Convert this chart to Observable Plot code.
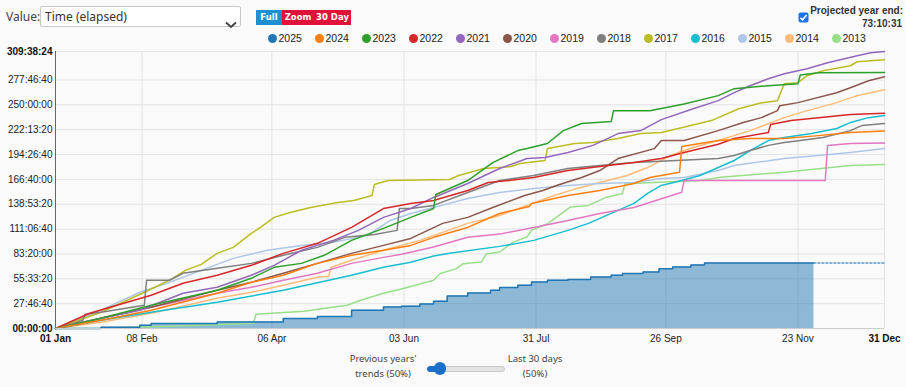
<!DOCTYPE html>
<html><head><meta charset="utf-8">
<script src="https://cdn.jsdelivr.net/npm/d3@7"></script>
<script src="https://cdn.jsdelivr.net/npm/@observablehq/plot@0.6"></script>
<style>
html,body{margin:0;padding:0;background:#fafafa;}
#wrap{position:relative;width:906px;height:387px;overflow:hidden;font-family:"Noto Sans","Open Sans",sans-serif;color:#333;}
#chart{position:absolute;left:0;top:0;}
.abs{position:absolute;white-space:nowrap;}
</style></head>
<body><div id="wrap"><div id="chart"></div></div>
<script>
// ---- data (day of year, cumulative hours) ----
const years  = [2025,2024,2023,2022,2021,2020,2019,2018,2017,2016,2015,2014,2013];
const colors = ["#1f77b4","#ff7f0e","#2ca02c","#d62728","#9467bd","#8c564b","#e377c2","#7f7f7f","#bcbd22","#17becf","#aec7e8","#ffbb78","#98df8a"];
const xTickDays   = [0,38,95,153,211,268,326,364];
const xTickLabels = ["01 Jan","08 Feb","06 Apr","03 Jun","31 Jul","26 Sep","23 Nov","31 Dec"];
const yTickSeconds = [0,100000,200000,300000,400000,500000,600000,700000,800000,900000,1000000,1114704];
const currentDay = 333;
const projectedEnd = 73.17528; // 73:10:31

const s2025 = [[0,0],[20,1.5],[37,3.7],[42,5.6],[71,7.4],[100,11.2],[115,13.5],[130,20.4],[144,24.1],[152,24.9],[160,27.5],[166,30.5],[172,36.4],[181,39.7],[191,42.7],[195,45.7],[203,48.3],[209,52.0],[216,53.9],[225,54.7],[235,57.6],[244,59.5],[249,61.4],[258,63.1],[265,66.9],[271,68.7],[279,71.0],[285,73.175],[333,73.175]];
const s2024 = [[0,0],[20,9.3],[42,20.4],[71,39.4],[86,51.7],[100,59.5],[115,72.8],[130,81.8],[144,87.4],[156,92.9],[166,101.9],[181,113.0],[195,128.6],[208,136.4],[209,139.8],[225,148.7],[239,154.3],[254,162.1],[261,168.8],[274,174.7],[275,203.4],[291,210.1],[305,212.3],[320,212.3],[335,215.6],[349,219.0],[364,220.7]];
const s2023 = [[0,0],[20,11.5],[42,26.0],[71,42.7],[86,56.1],[96,68.4],[108,72.8],[118,81.8],[130,98.5],[144,111.9],[156,124.2],[166,134.1],[167,149.8],[181,165.4],[192,185.5],[203,198.9],[207,201.1],[216,206.8],[223,221.2],[231,229.1],[244,231.3],[245,243.5],[261,243.5],[276,251.0],[291,260.3],[298,268.1],[313,271.4],[326,273.7],[327,283.4],[335,285.9],[364,286.3]];
const s2022 = [[0,0],[15,17.1],[42,37.2],[56,50.5],[71,59.5],[86,70.6],[100,84.0],[115,95.2],[130,113.0],[144,134.1],[156,139.8],[166,143.1],[181,154.3],[190,163.2],[199,165.4],[210,168.8],[225,176.6],[239,181.1],[254,185.5],[266,190.0],[276,196.7],[291,206.0],[298,212.3],[313,219.0],[314,228.0],[323,232.4],[335,235.7],[349,239.1],[364,240.7]];
const s2021 = [[0,0],[20,11.5],[37,20.4],[56,39.4],[71,46.1],[86,59.5],[96,70.6],[108,87.4],[122,98.5],[133,109.7],[144,124.2],[156,134.1],[166,146.5],[181,162.1],[195,178.8],[207,190.0],[215,191.1],[225,196.7],[236,204.7],[247,217.9],[257,221.2],[266,233.5],[280,245.7],[291,254.7],[298,263.6],[305,271.4],[313,279.2],[320,284.8],[330,290.4],[339,297.1],[352,304.9],[358,308.3],[364,309.64]];
const s2020 = [[0,0],[20,11.5],[42,23.8],[71,42.7],[86,51.7],[100,61.7],[115,72.8],[130,84.0],[144,92.9],[156,100.7],[170,117.5],[181,124.2],[192,135.3],[206,148.7],[214,154.3],[220,159.9],[231,168.8],[239,176.6],[247,190.0],[263,201.1],[266,210.1],[276,210.1],[291,221.2],[302,230.2],[310,235.7],[317,243.5],[318,249.1],[326,252.5],[343,263.6],[349,269.2],[357,277.0],[364,281.5]];
const s2019 = [[0,0],[20,11.5],[42,23.8],[71,39.4],[86,46.1],[100,53.9],[115,61.7],[130,72.8],[144,79.5],[152,82.9],[166,91.0],[181,101.9],[195,105.5],[210,113.0],[225,120.8],[239,128.6],[254,135.3],[266,145.0],[275,152.4],[276,165.4],[338,165.4],[339,204.5],[349,206.8],[364,207.3]];
const s2018 = [[0,0],[6,4.0],[12,9.3],[13,16.0],[20,18.2],[39,26.0],[40,53.9],[50,53.9],[56,61.7],[71,67.3],[86,72.8],[100,81.8],[115,90.7],[127,101.9],[140,105.0],[150,109.7],[151,134.1],[156,134.1],[166,137.6],[181,152.1],[195,165.4],[210,171.0],[225,178.8],[239,182.2],[254,185.5],[291,190.0],[298,193.3],[305,198.9],[313,204.7],[320,207.9],[327,210.1],[337,213.4],[349,221.2],[354,226.8],[364,229.1]];
const s2017 = [[0,0],[20,18.2],[40,41.6],[50,53.9],[57,65.0],[64,71.7],[71,84.0],[78,90.7],[86,106.3],[90,113.0],[96,124.2],[103,129.7],[112,135.3],[124,140.9],[131,143.1],[139,148.7],[140,161.0],[146,165.4],[173,166.6],[177,171.0],[188,178.8],[200,181.0],[204,184.4],[215,187.8],[216,201.1],[228,206.7],[236,207.8],[247,212.3],[257,217.9],[266,219.0],[273,223.4],[288,232.4],[300,245.7],[310,252.4],[317,254.7],[320,273.7],[326,274.8],[330,282.6],[337,288.1],[349,293.7],[352,298.2],[364,300.4]];
const s2016 = [[0,0],[20,9.3],[42,18.2],[71,29.3],[100,42.7],[130,59.5],[144,68.4],[156,74.0],[166,81.0],[173,84.0],[195,91.8],[210,98.5],[225,109.7],[234,117.5],[239,123.1],[247,132.0],[254,139.8],[260,151.0],[266,159.9],[275,165.4],[283,171.0],[291,180.0],[298,187.8],[305,198.9],[313,210.1],[320,213.4],[332,217.9],[343,223.5],[349,230.2],[357,235.7],[364,238.0]];
const s2015 = [[0,0],[20,20.4],[37,40.5],[49,50.5],[64,65.0],[78,78.4],[93,87.4],[108,92.9],[122,96.3],[137,104.1],[147,120.8],[156,128.6],[166,135.3],[181,145.4],[195,152.1],[210,156.6],[225,159.9],[239,162.1],[254,163.2],[266,167.7],[276,168.8],[291,176.6],[298,182.2],[320,190.0],[335,193.3],[349,196.7],[364,201.1]];
const s2014 = [[0,0],[20,7.0],[42,17.1],[71,33.8],[86,40.5],[100,48.3],[115,57.2],[120,58.5],[121,68.4],[130,76.2],[144,87.4],[160,98.5],[181,117.5],[195,126.4],[207,137.6],[219,148.7],[229,156.6],[239,163.2],[251,171.0],[260,179.9],[270,193.3],[280,202.3],[291,210.1],[305,221.2],[320,235.7],[327,241.3],[335,246.9],[343,252.5],[352,260.3],[358,263.6],[364,267.0]];
const s2013 = [[0,0],[20,0.3],[50,2.6],[64,3.7],[87,5.9],[88,16.0],[109,19.3],[128,26.0],[134,31.6],[144,39.4],[151,43.5],[166,53.9],[169,61.4],[176,66.9],[179,72.5],[187,74.3],[189,82.9],[195,85.5],[201,96.6],[207,102.2],[209,109.7],[216,117.1],[220,124.5],[226,135.7],[234,137.6],[242,146.8],[249,150.9],[250,161.8],[283,165.4],[292,169.1],[320,174.7],[349,182.2],[364,183.3]];

const seriesByYear = {2025:s2025,2024:s2024,2023:s2023,2022:s2022,2021:s2021,2020:s2020,2019:s2019,2018:s2018,2017:s2017,2016:s2016,2015:s2015,2014:s2014,2013:s2013};

// ---- build tables ----
const rows = [];
for (const y of years.slice(1).reverse()) for (const [d,h] of seriesByYear[y]) rows.push({year:String(y), day:d, h});
const rows2025 = s2025.map(([d,h]) => ({year:"2025", day:d, h}));
const projRows = [{day:currentDay,h:projectedEnd},{day:364,h:projectedEnd}];
const yTicks = yTickSeconds.map(s => s/3600);
const yMax = yTicks[yTicks.length-1];

const pad = n => String(n).padStart(2,"0");
const fmtH = h => { const s = Math.round(h*3600); return pad(Math.floor(s/3600))+":"+pad(Math.floor((s%3600)/60))+":"+pad(s%60); };
const xLab = d => xTickLabels[xTickDays.indexOf(d)];

const midY = yTicks.slice(1,-1), endY = [yTicks[0], yMax];
const midX = xTickDays.slice(1,-1), endX = [xTickDays[0], xTickDays[xTickDays.length-1]];

const chart = Plot.plot({
  width: 906, height: 387,
  marginTop: 51, marginBottom: 59, marginLeft: 55, marginRight: 22,
  style: {fontFamily: "'Liberation Sans', Arial, sans-serif", fontSize: "10px", color: "#222", background: "transparent", overflow: "visible"},
  x: {domain: [0,364], label: null},
  y: {domain: [0,yMax], label: null},
  color: {domain: years.map(String), range: colors},
  marks: [
    Plot.gridX(xTickDays, {stroke: "#e3e3e3", strokeOpacity: 1}),
    Plot.gridY(yTicks, {stroke: "#e3e3e3", strokeOpacity: 1}),
    Plot.areaY(rows2025, {x: "day", y: "h", curve: "step-after", fill: "#1f77b4", fillOpacity: 0.5}),
    Plot.line(rows, {x: "day", y: "h", z: "year", stroke: "year", curve: "linear", strokeWidth: 1.5}),
    Plot.line(rows2025, {x: "day", y: "h", curve: "step-after", stroke: "#1f77b4", strokeWidth: 1.5}),
    Plot.line(projRows, {x: "day", y: "h", stroke: "#5b9bd0", strokeWidth: 1.5, strokeDasharray: "2,2"}),
    Plot.ruleX([0], {stroke: "#666"}),
    Plot.ruleY([0], {stroke: "#ccc"}),
    Plot.axisY(midY, {tickSize: 0, tickPadding: 3, tickFormat: fmtH, fill: "#222", label: null}),
    Plot.axisY(endY, {tickSize: 0, tickPadding: 3, tickFormat: fmtH, fill: "#111", fontWeight: "bold", label: null}),
    Plot.axisX(midX, {tickSize: 0, tickPadding: 6, tickFormat: xLab, fill: "#222", label: null}),
    Plot.axisX(endX, {tickSize: 0, tickPadding: 6, tickFormat: xLab, fill: "#111", fontWeight: "bold", label: null})
  ]
});
document.getElementById("chart").appendChild(chart);

// ---- HTML controls / legend overlays ----
const wrap = document.getElementById("wrap");
function add(html, css){ const e=document.createElement("div"); e.className="abs"; e.innerHTML=html; Object.assign(e.style, css); wrap.appendChild(e); return e; }

add("Value:", {left:"6px", top:"8px", fontSize:"12px", color:"#444"});
add("Time (elapsed)", {left:"40px", top:"6px", width:"195px", height:"19px", lineHeight:"19px", paddingLeft:"4px", fontSize:"12px", color:"#333", background:"#fff", border:"1px solid #c8c8c8", borderRadius:"2px"});
add('<svg width="12" height="8" viewBox="0 0 12 8"><path d="M1 1.5 L6 6 L11 1.5" fill="none" stroke="#444" stroke-width="2"/></svg>', {left:"225px", top:"12px"});
const btn = (t,l,w,bg) => add(t, {left:l+"px", top:"10px", width:w+"px", height:"15px", lineHeight:"15px", textAlign:"center", fontSize:"8.5px", fontWeight:"bold", color:"#fff", background:bg, fontFamily:"'DejaVu Sans',sans-serif"});
btn("Full",256,26,"#1e8fd0");
btn("Zoom",282,32,"#e0123a");
btn("30 Day",314,37,"#e0123a");

add('<svg width="11" height="11"><rect x="0.5" y="0.5" width="10" height="10" rx="2" fill="#1a73e8"/><path d="M2.5 5.8 L4.6 7.8 L8.6 3" fill="none" stroke="#fff" stroke-width="1.6"/></svg>', {left:"798px", top:"6px"});
add("Projected year end:", {right:"3px", top:"5px", fontSize:"10px", fontWeight:"bold", color:"#333", fontFamily:"'Liberation Sans',Arial,sans-serif"});
add(fmtH(projectedEnd), {right:"4px", top:"18px", fontSize:"10px", fontWeight:"bold", color:"#333", fontFamily:"'Liberation Sans',Arial,sans-serif"});

years.forEach((y,i) => {
  const cx = 272 + i*47;
  add(`<span style="display:inline-block;width:9px;height:9px;border-radius:50%;background:${colors[i]};vertical-align:-1px;margin-right:2px"></span>${y}`,
      {left:(cx-4.5)+"px", top:"32px", fontSize:"10.5px", color:"#222", fontFamily:"'Liberation Sans',Arial,sans-serif"});
});

add("Previous years'<br>trends (50%)", {left:"333px", top:"351px", width:"100px", textAlign:"center", fontSize:"9.5px", lineHeight:"15px", color:"#444"});
add("Last 30 days<br>(50%)", {left:"485px", top:"351px", width:"100px", textAlign:"center", fontSize:"9.5px", lineHeight:"15px", color:"#444"});
add("", {left:"427px", top:"366px", width:"76px", height:"4px", background:"#e3e3e3", border:"1px solid #c9c9c9", borderRadius:"3px"});
add("", {left:"427px", top:"366px", width:"13px", height:"4px", background:"#1a6fc9", border:"1px solid #1a6fc9", borderRadius:"3px 0 0 3px"});
add("", {left:"434px", top:"362px", width:"12px", height:"13px", background:"#1a6fc9", borderRadius:"6px"});
</script></body></html>
